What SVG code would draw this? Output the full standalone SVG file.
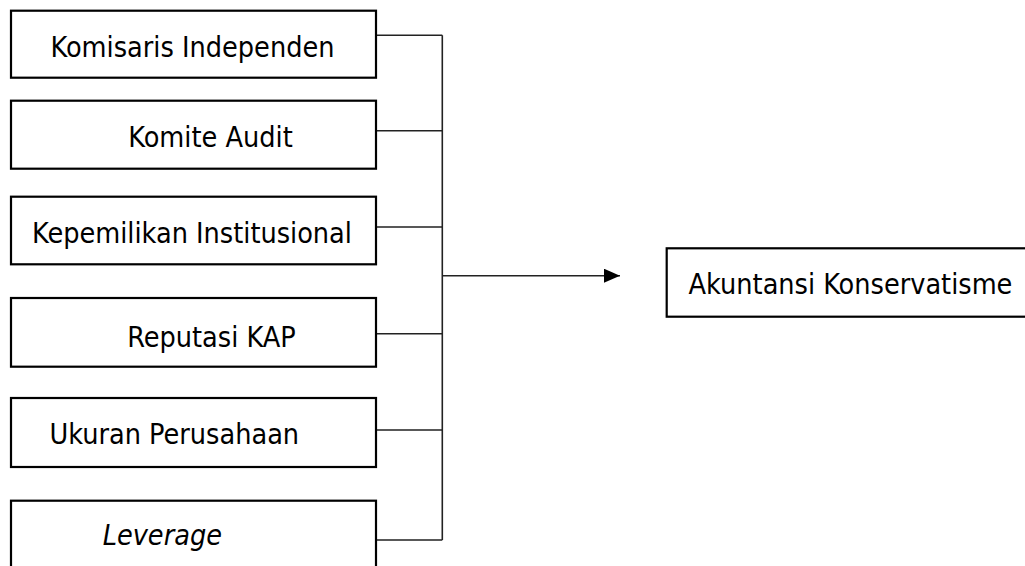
<svg xmlns="http://www.w3.org/2000/svg" width="1025" height="566" viewBox="0 0 1025 566">
  <style>
    .box { fill: #ffffff; stroke: #000000; stroke-width: 2.2; }
    .lbl { font-family: "DejaVu Sans Condensed", "DejaVu Sans", sans-serif; font-stretch: condensed; font-size: 28.5px; fill: #000000; text-anchor: middle; }
    .it { font-style: italic; }
    .conn { fill: none; stroke: #222222; stroke-width: 1.6; }
  </style>
  <defs>
    <marker id="arrow" markerWidth="16" markerHeight="14" refX="16" refY="7" orient="auto" markerUnits="userSpaceOnUse">
      <polygon points="0,0 16,7 0,14" fill="#000000"/>
    </marker>
  </defs>
  <rect x="0" y="0" width="1025" height="566" fill="#ffffff"/>

  <g id="connectors">
    <path class="conn" d="M376,35.3 H442.3 M376,130.7 H442.3 M376,227 H442.3 M376,333.7 H442.3 M376,430 H442.3 M376,540 H442.3 M442.3,35.3 V540"/>
    <line class="conn" x1="442.3" y1="275.7" x2="620" y2="275.7" marker-end="url(#arrow)"/>
  </g>

  <g id="node-komisaris">
    <rect class="box" x="11" y="10.7" width="365" height="67"/>
    <text class="lbl" x="192.5" y="56.7">Komisaris Independen</text>
  </g>
  <g id="node-komite">
    <rect class="box" x="11" y="100.7" width="365" height="68"/>
    <text class="lbl" x="210.5" y="146.7">Komite Audit</text>
  </g>
  <g id="node-kepemilikan">
    <rect class="box" x="11" y="196.7" width="365" height="67.6"/>
    <text class="lbl" x="192" y="243.3">Kepemilikan Institusional</text>
  </g>
  <g id="node-reputasi">
    <rect class="box" x="11" y="298" width="365" height="68.7"/>
    <text class="lbl" x="211.5" y="346.7">Reputasi KAP</text>
  </g>
  <g id="node-ukuran">
    <rect class="box" x="11" y="398" width="365" height="69"/>
    <text class="lbl" x="174.3" y="444">Ukuran Perusahaan</text>
  </g>
  <g id="node-leverage">
    <rect class="box" x="11" y="500.7" width="365" height="70"/>
    <text class="lbl it" x="162.3" y="545">Leverage</text>
  </g>
  <g id="node-akuntansi">
    <rect class="box" x="666.7" y="248.3" width="370" height="68.4"/>
    <text class="lbl" x="850.5" y="294.3">Akuntansi Konservatisme</text>
  </g>
</svg>
